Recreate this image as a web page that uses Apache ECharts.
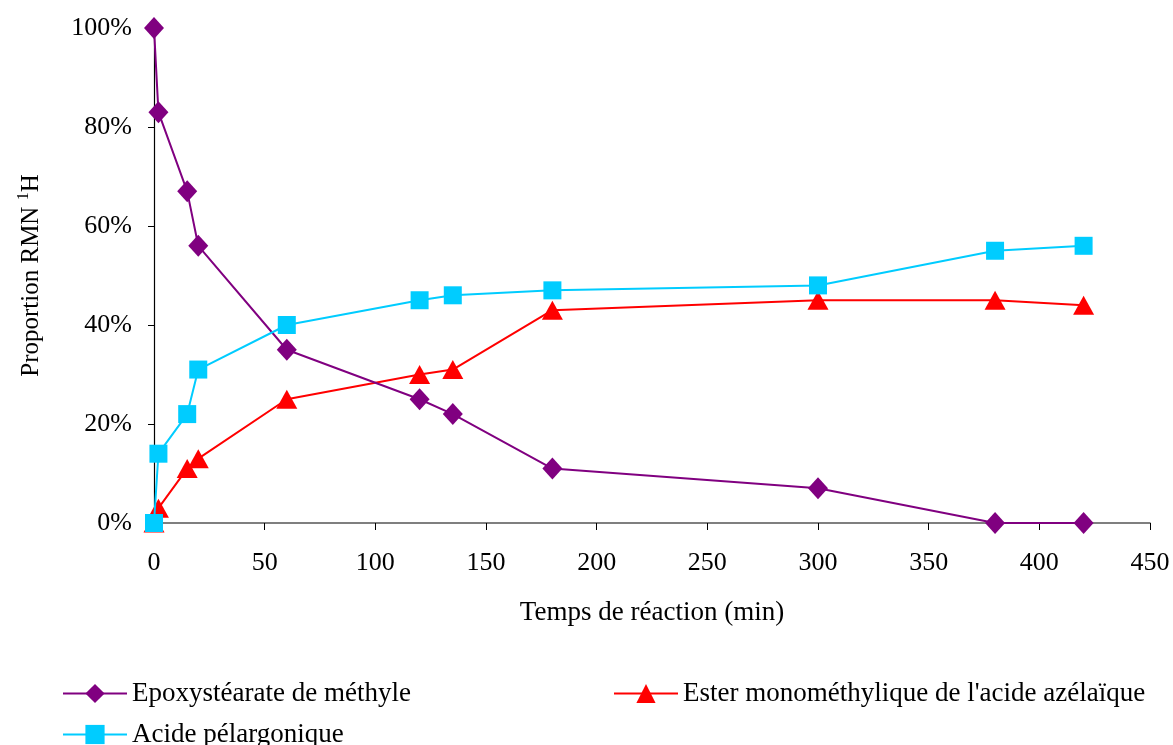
<!DOCTYPE html>
<html>
<head>
<meta charset="utf-8">
<script src="https://cdn.jsdelivr.net/npm/echarts@6/dist/echarts.min.js"></script>
<style>
  html, body { margin: 0; padding: 0; background: #fff; }
  #chart { width: 1173px; height: 745px; }
</style>
</head>
<body>
<div id="chart"></div>
<script>
// temps de réaction (min)
const times = [0, 2, 15, 20, 60, 120, 135, 180, 300, 380, 420];
// proportions RMN (%)
const epoxy = [100, 83, 67, 56, 35, 25, 22, 11, 7, 0, 0];
const ester = [0, 3, 11, 13, 25, 30, 31, 43, 45, 45, 44];
const acide = [0, 14, 22, 31, 40, 45, 46, 47, 48, 55, 56];
const names = [
  "Epoxystéarate de méthyle",
  "Ester monométhylique de l'acide azélaïque",
  "Acide pélargonique",
];

const font = "Liberation Serif";
const chart = echarts.init(document.getElementById("chart"));
const pairs = (ys) => times.map((t, i) => [t, ys[i]]);

const legendBase = {
  itemWidth: 64,
  itemHeight: 24,
  itemGap: 6,
  textStyle: { fontFamily: font, fontSize: 27, color: "#000" },
  selectedMode: false,
};

chart.setOption({
  animation: false,
  grid: { left: 154, right: 23, top: 28, bottom: 222, outerBoundsMode: "none", containLabel: false },
  xAxis: {
    type: "value",
    min: 0,
    max: 450,
    interval: 50,
    name: "Temps de réaction (min)",
    nameLocation: "middle",
    nameGap: 76,
    nameTextStyle: { fontFamily: font, fontSize: 27, color: "#000" },
    axisLine: { lineStyle: { color: "#555", width: 1.5 } },
    axisTick: { length: 7, lineStyle: { color: "#000" } },
    axisLabel: { fontFamily: font, fontSize: 26, color: "#000", margin: 27 },
    splitLine: { show: false },
  },
  yAxis: {
    type: "value",
    min: 0,
    max: 100,
    interval: 20,
    name: "Proportion RMN {sup|1}H",
    nameLocation: "middle",
    nameGap: 108,
    nameTextStyle: {
      fontFamily: font, fontSize: 25, color: "#000",
      rich: { sup: { fontFamily: font, fontSize: 16, color: "#000", verticalAlign: "top", padding: [0, 0, 14, 0] } },
    },
    axisLine: { show: true, lineStyle: { color: "#000", width: 1.2 } },
    axisTick: { show: true, length: 6, lineStyle: { color: "#000" } },
    axisLabel: { fontFamily: font, fontSize: 26, color: "#000", margin: 22, formatter: "{value}%" },
    splitLine: { show: false },
  },
  legend: [
    Object.assign({ left: 57, top: 675, data: [names[0]] }, legendBase),
    Object.assign({ left: 608, top: 675, data: [names[1]] }, legendBase),
    Object.assign({ left: 57, top: 716, data: [names[2]] }, legendBase),
  ],
  series: [
    {
      name: names[0], type: "line", data: pairs(epoxy),
      symbol: "diamond", symbolSize: [20, 22],
      itemStyle: { color: "#800080" }, lineStyle: { color: "#800080", width: 2 },
      z: 3,
    },
    {
      name: names[1], type: "line", data: pairs(ester),
      symbol: "triangle", symbolSize: [21, 19],
      itemStyle: { color: "#FF0000" }, lineStyle: { color: "#FF0000", width: 2 },
      z: 2,
    },
    {
      name: names[2], type: "line", data: pairs(acide),
      symbol: "rect", symbolSize: 18,
      itemStyle: { color: "#00CCFF" }, lineStyle: { color: "#00CCFF", width: 2 },
      z: 4,
    },
  ],
});
</script>
</body>
</html>
